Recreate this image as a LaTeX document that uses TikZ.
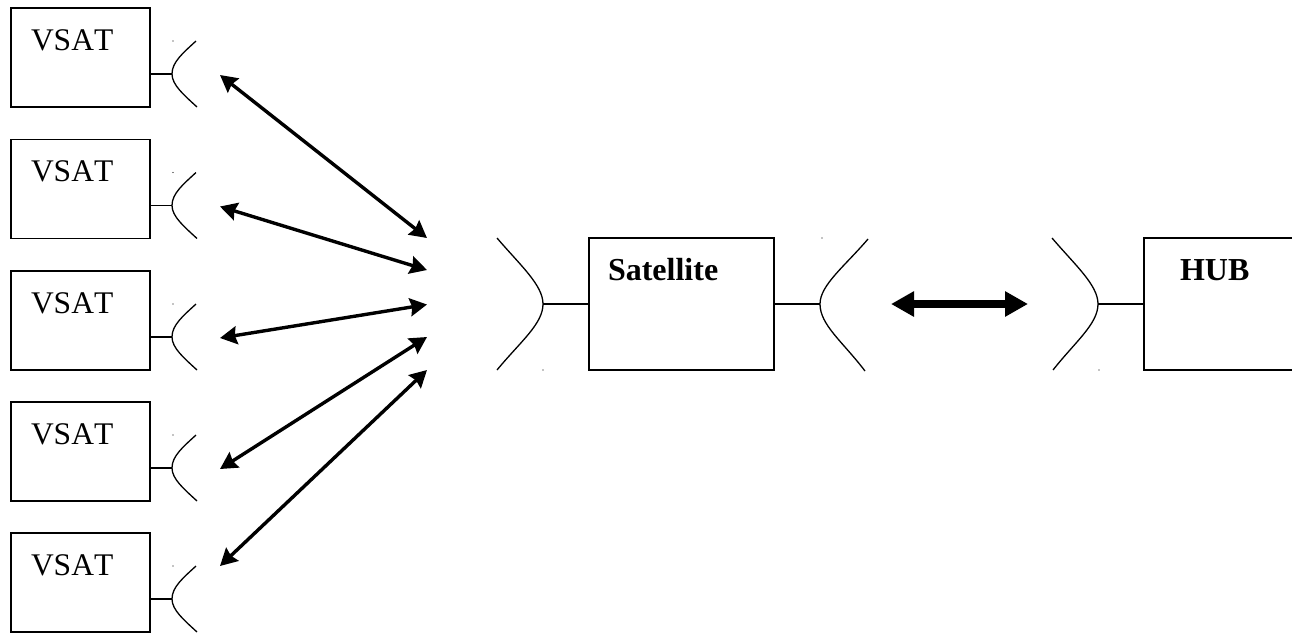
\documentclass[tikz,border=0pt]{standalone}
\usepackage{fontspec}
\setmainfont[Kerning=Off]{Liberation Serif}
\usetikzlibrary{arrows.meta}
\tikzset{
	unit/.style={draw,line width=1.5pt,minimum height=99pt,inner sep=0pt,outer sep=0pt},
	tag/.style={inner sep=0pt,outer sep=0pt,anchor=base west,font=\fontsize{31.5}{36}\selectfont},
	stub/.style={line width=1.4pt},
	dish/.style={line width=1.3pt},
	beam/.style={line width=3.4pt,{Stealth[length=17pt,width=18pt,inset=2pt]}-{Stealth[length=17pt,width=18pt,inset=2pt]}},
	trunk/.style={line width=8pt,{Triangle[length=23pt,width=24pt]}-{Triangle[length=23pt,width=24pt]}}
}
\begin{document}
\begin{tikzpicture}[x=1pt,y=-1pt]
	\useasboundingbox (0,0) rectangle (1292,633);
	% ground stations
	\foreach \i/\y in {1/74,2/205.5,3/337,4/468,5/599} {
		\node[unit,minimum width=139pt] (vsat\i) at (80.5,\y-16.5) {};
		\node[tag] (name\i) at (31,\y-24) {VSAT};
		\coordinate (rim\i) at (172,\y);
		\coordinate (tip\i) at (220,\y+1);
		\draw[stub] (vsat\i.east |- rim\i) -- (rim\i);
		\draw[dish] (196,\y-33) .. controls (183,\y-21) and (172,\y-12) .. (rim\i)
			.. controls (172,\y+11) and (184,\y+21) .. (197,\y+33);
		\fill (173,\y-33) circle (0.6pt);
	}
	\coordinate (tip5) at (220,566);
	% satellite and hub
	\node[unit,minimum width=185pt,minimum height=132pt] (sat) at (681.5,304) {};
	\node[tag,font=\fontsize{32}{36}\selectfont\bfseries] (satname) at (608,280) {Satellite};
	\node[unit,minimum width=170pt,minimum height=132pt] (hub) at (1229,304) {};
	\node[tag,font=\fontsize{32}{36}\selectfont\bfseries] (hubname) at (1180,280) {HUB};
	\coordinate (satin) at (543,304);
	\coordinate (satout) at (820,304);
	\coordinate (hubin) at (1098,304);
	\draw[stub] (satin) -- (sat.west);
	\draw[stub] (sat.east) -- (satout);
	\draw[stub] (hubin) -- (hub.west);
	\draw[dish] (497,238) .. controls (520,265) and (543,285) .. (satin)
		.. controls (543,324) and (520,342) .. (497,370);
	\draw[dish] (868,239) .. controls (845,266) and (820,285) .. (satout)
		.. controls (820,325) and (843,342) .. (865,371);
	\draw[dish] (1052,238) .. controls (1075,265) and (1098,285) .. (hubin)
		.. controls (1098,324) and (1075,342) .. (1053,370);
	\fill (543,370) circle (0.6pt);
	\fill (822,238) circle (0.6pt);
	\fill (1099,370) circle (0.6pt);
	% links
	\foreach \i/\y in {1/238,2/270,3/304.5,4/337,5/370} {
		\coordinate (end\i) at (427,\y);
		\draw[beam] (tip\i) -- (end\i);
	}
	\coordinate (trunkl) at (891,304);
	\coordinate (trunkr) at (1028,304);
	\draw[trunk] (trunkl) -- (trunkr);
\end{tikzpicture}
\end{document}
